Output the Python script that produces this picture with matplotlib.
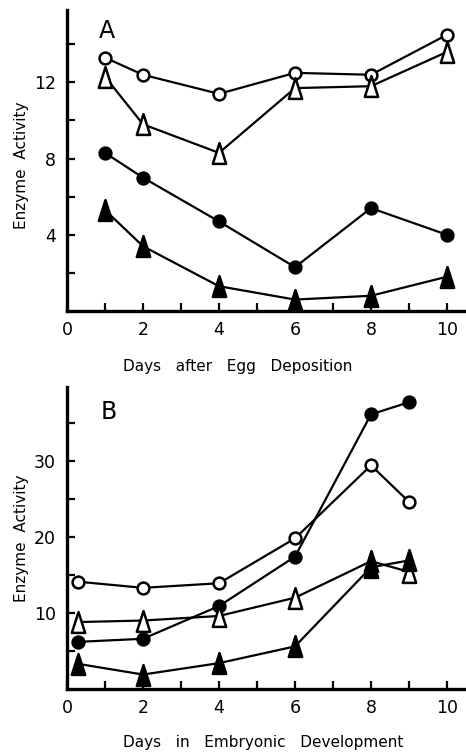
import matplotlib
matplotlib.use("Agg")
import matplotlib.pyplot as plt
from matplotlib.path import Path
from matplotlib.ticker import FixedLocator

# ---------------- data ----------------
# Panel A: days after egg deposition
days_a = [1, 2, 4, 6, 8, 10]
a_open_circle = [13.3, 12.4, 11.4, 12.5, 12.4, 14.5]
a_open_tri = [12.3, 9.8, 8.3, 11.7, 11.8, 13.6]
a_filled_circle = [8.3, 7.0, 4.7, 2.3, 5.4, 4.0]
a_filled_tri = [5.3, 3.4, 1.3, 0.6, 0.8, 1.8]

# Panel B: days in embryonic development
days_b = [0.3, 2, 4, 6, 8, 9]
b_open_circle = [14.1, 13.3, 13.9, 19.8, 29.4, 24.6]
b_filled_circle = [6.2, 6.6, 10.9, 17.4, 36.1, 37.7]
b_open_tri = [8.8, 9.0, 9.6, 12.0, 16.8, 15.4]
b_filled_tri = [3.3, 1.9, 3.4, 5.6, 16.0, 16.9]

xtick_labels = ["0", "2", "4", "6", "8", "10"]
a_ytick_labels = ["4", "8", "12"]
b_ytick_labels = ["10", "20", "30"]

# ---------------- style ----------------
plt.rcParams['font.family'] = ['DejaVu Sans']

tri = Path([(-0.32, -0.5), (0.32, -0.5), (0.0, 0.5), (-0.32, -0.5)],
           [Path.MOVETO, Path.LINETO, Path.LINETO, Path.CLOSEPOLY])

W, H = 466, 753
fig = plt.figure(figsize=(W / 100, H / 100), dpi=100)

def make_axes(left_px, bottom_px, right_px, top_px):
    return fig.add_axes([left_px / W, 1 - bottom_px / H,
                         (right_px - left_px) / W, (bottom_px - top_px) / H])

line_kw = dict(color='black', lw=1.6)
circ_kw = dict(marker='o', markersize=8.5, markeredgewidth=1.8, markeredgecolor='black')
tri_kw = dict(marker=tri, markersize=15, markeredgewidth=1.8, markeredgecolor='black')

def style(ax, ymax, ymajor, ylabels):
    ax.set_xlim(0, 10.5)
    ax.set_ylim(0, ymax)
    for s in ['top', 'right']:
        ax.spines[s].set_visible(False)
    for s in ['left', 'bottom']:
        ax.spines[s].set_linewidth(2.4)
    ax.xaxis.set_major_locator(FixedLocator([0, 2, 4, 6, 8, 10]))
    ax.set_xticklabels(xtick_labels)
    ax.xaxis.set_minor_locator(FixedLocator([1, 3, 5, 7, 9]))
    ax.tick_params(axis='x', which='both', direction='in', length=6, width=1.6,
                   labelsize=12.5, pad=7)
    ax.tick_params(axis='y', which='both', direction='in', length=6, width=1.6,
                   labelsize=12.5, pad=8)
    yt = [ymajor * (i + 1) for i in range(len(ylabels))]
    ax.yaxis.set_major_locator(FixedLocator(yt))
    ax.set_yticklabels(ylabels)
    ax.yaxis.set_minor_locator(FixedLocator([ymajor / 2 * (2 * i + 1) for i in range(len(ylabels) + 1)]))

# Panel A
axA = make_axes(67, 311, 466, 10)
axA.plot(days_a, a_open_circle, markerfacecolor='white', **line_kw, **circ_kw)
axA.plot(days_a, a_open_tri, markerfacecolor='white', **line_kw, **tri_kw)
axA.plot(days_a, a_filled_circle, markerfacecolor='black', **line_kw, **circ_kw)
axA.plot(days_a, a_filled_tri, markerfacecolor='black', **line_kw, **tri_kw)
style(axA, 15.8, 4, a_ytick_labels)
axA.text(1.05, 14.7, "A", fontsize=17, ha='center', va='center')

# Panel B
axB = make_axes(67, 689, 466, 387)
axB.plot(days_b, b_open_circle, markerfacecolor='white', **line_kw, **circ_kw)
axB.plot(days_b, b_filled_circle, markerfacecolor='black', **line_kw, **circ_kw)
axB.plot(days_b, b_open_tri, markerfacecolor='white', **line_kw, **tri_kw)
axB.plot(days_b, b_filled_tri, markerfacecolor='black', **line_kw, **tri_kw)
style(axB, 39.7, 10, b_ytick_labels)
axB.text(1.1, 36.4, "B", fontsize=17, ha='center', va='center')

# axis titles (placed in figure pixels)
def ftext(x, y, s, **kw):
    fig.text(x / W, 1 - y / H, s, ha='center', va='center', **kw)

ftext(22, 165, "Enzyme  Activity", fontsize=11, rotation=90)
ftext(22, 538, "Enzyme  Activity", fontsize=11, rotation=90)
ftext(238, 367, "Days   after   Egg   Deposition", fontsize=11)
ftext(263, 742, "Days   in   Embryonic   Development", fontsize=11)

fig.savefig("out.png", dpi=100)
